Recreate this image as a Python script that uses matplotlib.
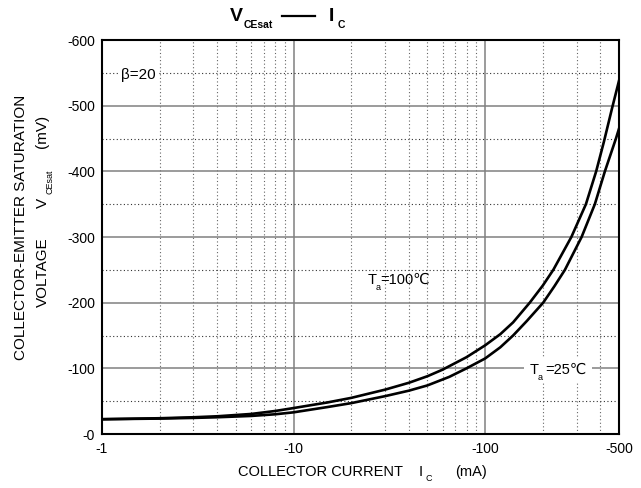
import matplotlib
matplotlib.use("Agg")
import matplotlib.pyplot as plt
from matplotlib.lines import Line2D

plt.rcParams['font.family'] = ['Liberation Sans', 'DejaVu Sans']

# curves (magnitudes: -Ic in mA, -Vce in mV)
ic_100 = [1, 2, 3, 4, 6, 8, 10, 15, 20, 30, 40, 50, 60, 80, 100, 120, 140, 171,
          200, 227, 282, 336, 380, 417, 459, 500]
vce_100 = [22.5, 24, 25.5, 27, 30.5, 35, 39.5, 48, 55, 67.5, 78, 88, 98, 117,
           135, 152, 170, 200, 226, 250, 300, 350, 400, 445, 495, 538]
ic_25 = [1, 2, 3, 4, 6, 8, 10, 15, 20, 30, 40, 50, 65, 80, 100, 120, 140, 165,
         201, 230, 261, 319, 374, 422, 482, 500]
vce_25 = [22.5, 23.5, 24.5, 25.5, 27.5, 30, 33, 41, 47, 57.6, 66, 74, 87, 100,
          115, 132, 150, 172, 200, 225, 250, 300, 350, 400, 450, 465]

xticks = [1, 10, 100, 500]
xticklabels = ['-1', '-10', '-100', '-500']
yticks = [0, 100, 200, 300, 400, 500, 600]

W, H = 641, 488
fig = plt.figure(figsize=(W/100, H/100), dpi=100)
ax = fig.add_axes([102/W, 1-434/H, 517/W, 394/H])


def ftext(x, y, s, **kw):
    # text placed by pixel position in the figure
    return fig.text(x/W, 1-y/H, s, **kw)


ax.set_xscale('log')
ax.set_xlim(1, 500)
ax.set_ylim(0, 600)

# grid
for d in [1, 10, 100]:
    for m in range(2, 10):
        if d*m < 500:
            ax.axvline(d*m, color='#666666', lw=0.8, ls=(0, (1, 2.2)), zorder=1)
for x in [10, 100]:
    ax.axvline(x, color='#808080', lw=1.1, zorder=1)
for y in range(50, 600, 100):
    ax.axhline(y, color='#333333', lw=0.8, ls=(0, (1, 2.2)), zorder=1)
for y in range(100, 600, 100):
    ax.axhline(y, color='#808080', lw=1.1, zorder=1)

ax.plot(ic_100, vce_100, color='black', lw=1.9, zorder=3)
ax.plot(ic_25, vce_25, color='black', lw=1.9, zorder=3)

ax.set_xticks(xticks)
ax.set_xticklabels(xticklabels)
ax.xaxis.set_minor_locator(matplotlib.ticker.NullLocator())
ax.set_yticks(yticks)
ax.set_yticklabels(['-%d' % v for v in yticks])
ax.tick_params(length=0, labelsize=10)
ax.tick_params(axis='y', pad=5)
ax.tick_params(axis='x', pad=6)

for s in ax.spines.values():
    s.set_linewidth(1.5)

wb = dict(facecolor='white', edgecolor='none', pad=1.5)
wb4 = dict(facecolor='white', edgecolor='none', pad=4)

# annotations
ftext(121, 79, 'β=20', fontsize=11, va='baseline', bbox=wb, zorder=5)

ftext(368, 284, 'T', fontsize=10.5, va='baseline', zorder=5)
ftext(375.5, 290, 'a', fontsize=6.5, va='baseline', zorder=5)
ftext(380, 284, '=100℃', fontsize=10.5, va='baseline', zorder=5)

ftext(530, 374, 'T', fontsize=10.5, va='baseline', bbox=wb4, zorder=5)
ftext(545, 374, '=25℃', fontsize=10.5, va='baseline', bbox=wb4, zorder=5)
ftext(538, 380, 'a', fontsize=6.5, va='baseline', zorder=6)

# title
ftext(230, 21, 'V', fontsize=14, fontweight='bold', va='baseline')
ftext(243.5, 28.5, 'CEsat', fontsize=7.5, fontweight='bold', va='baseline')
fig.add_artist(Line2D([282/W, 315/W], [1-15.5/H, 1-15.5/H], color='black', lw=1.6))
ftext(329, 21, 'I', fontsize=14, fontweight='bold', va='baseline')
ftext(337.5, 28.5, 'C', fontsize=7.5, fontweight='bold', va='baseline')

# x label
ftext(238, 476, 'COLLECTOR CURRENT', fontsize=10.5, va='baseline')
ftext(419, 476, 'I', fontsize=10.5, va='baseline')
ftext(425, 481, 'C', fontsize=6.5, va='baseline')
ftext(455, 476, '(mA)', fontsize=10.5, va='baseline')

# y label
rot = dict(rotation=90, rotation_mode='anchor', va='baseline')
ftext(25, 227, 'COLLECTOR-EMITTER SATURATION', fontsize=11, ha='center', **rot)
ftext(46.5, 307, 'VOLTAGE', fontsize=11, ha='left', **rot)
ftext(46.5, 208, 'V', fontsize=11, ha='left', **rot)
ftext(52.5, 194, 'CEsat', fontsize=6.5, ha='left', **rot)
ftext(46.5, 148, '(mV)', fontsize=11, ha='left', **rot)

fig.savefig('out.png', dpi=100)
